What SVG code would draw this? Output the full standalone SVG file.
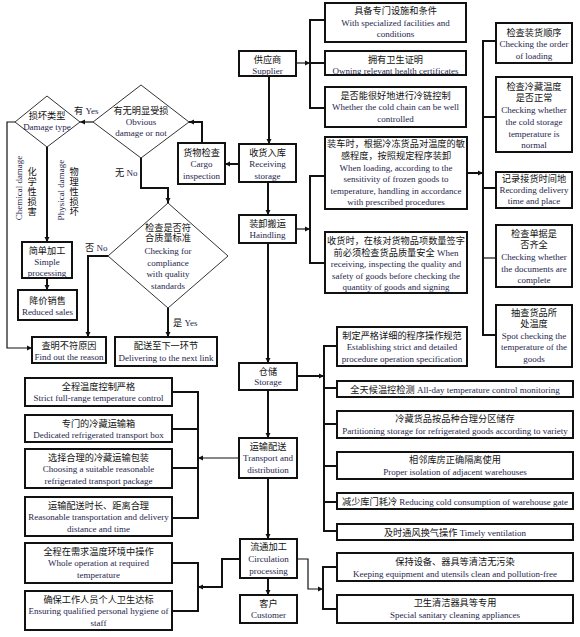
<svg xmlns="http://www.w3.org/2000/svg" width="580" height="637" viewBox="0 0 580 637">
<style>
.bx{fill:#fff;stroke:#111;stroke-width:2}
.dm{fill:#fff;stroke:#333;stroke-width:1}
.zh{font-family:"Noto Sans CJK SC","Noto Sans",sans-serif;font-size:9.2px;fill:#111}
.zv{font-family:"Noto Sans CJK SC","Noto Sans",sans-serif;font-size:9.2px;fill:#111;writing-mode:vertical-rl;letter-spacing:0.8px}
.en{font-family:"Liberation Serif","Times New Roman",serif;font-size:9px;fill:#26264d}
.c{text-anchor:middle}
.ln{fill:none;stroke:#111;stroke-width:2}
.tn{fill:none;stroke:#111;stroke-width:1.2}
</style>
<defs>
<marker id="ar" markerUnits="userSpaceOnUse" markerWidth="6" markerHeight="6" refX="5" refY="3" orient="auto"><path d="M0,0.5 L5,3 L0,5.5 z" fill="#111"/></marker>
</defs>
<rect width="580" height="637" fill="#fff"/>

<g id="connectors">
<path class="tn" d="M296,63 H310" marker-end="url(#ar)"/>
<path class="ln" d="M325,20 H310 V108 H325 M310,63 H325"/>
<path class="ln" d="M269,76 V144" marker-end="url(#ar)"/>
<path class="ln" d="M239,164 H225" marker-end="url(#ar)"/>
<path class="ln" d="M202,143 V122 H189" marker-end="url(#ar)"/>
<path class="tn" d="M93,122 H80" marker-end="url(#ar)"/>
<path class="ln" d="M141,157 V188 H168 V203" marker-end="url(#ar)"/>
<path class="ln" d="M47,147 V242" marker-end="url(#ar)"/>
<path class="ln" d="M47,278 V290" marker-end="url(#ar)"/>
<path class="tn" d="M15,122 H7 V348 H32" marker-end="url(#ar)"/>
<path class="ln" d="M108,256 H88 V337" marker-end="url(#ar)"/>
<path class="ln" d="M168,308 V337" marker-end="url(#ar)"/>
<path class="ln" d="M268,182 V215" marker-end="url(#ar)"/>
<path class="tn" d="M296,229 H310" marker-end="url(#ar)"/>
<path class="ln" d="M325,176 H310 V263 H325"/>
<path class="ln" d="M467,173 H483" marker-end="url(#ar)"/>
<path class="ln" d="M497,41 H483 V335 H497 M483,117 H497 M483,188 H497"/>
<path class="tn" d="M483,258 H497"/>
<path class="ln" d="M268,243 V363" marker-end="url(#ar)"/>
<path class="ln" d="M297,376 H324" marker-end="url(#ar)"/>
<path class="ln" d="M337,346 H324 V531 H337 M324,388 H337 M324,424 H337 M324,466 H337 M324,502 H337"/>
<path class="ln" d="M268,390 V438" marker-end="url(#ar)"/>
<path class="tn" d="M239,458 H198" marker-end="url(#ar)"/>
<path class="ln" d="M172,392 H198 V518 H172 M198,429 H172 M198,468 H172"/>
<path class="ln" d="M268,478 V539" marker-end="url(#ar)"/>
<path class="ln" d="M240,559 H222 V587 H198" marker-end="url(#ar)"/>
<path class="ln" d="M172,563 H198 V611 H172"/>
<path class="tn" d="M297,559 H308 V589 H323" marker-end="url(#ar)"/>
<path class="ln" d="M337,567 H323 V609 H337"/>
<path class="ln" d="M268,578 V595" marker-end="url(#ar)"/>
<text x="74" y="113.5"><tspan class="zh">有</tspan><tspan class="en"> Yes</tspan></text>
<text x="115" y="175.5"><tspan class="zh">无</tspan><tspan class="en"> No</tspan></text>
<text x="85" y="250.5"><tspan class="zh">否</tspan><tspan class="en"> No</tspan></text>
<text x="173" y="325.5"><tspan class="zh">是</tspan><tspan class="en"> Yes</tspan></text>
<text class="en c" x="22" y="188" transform="rotate(-90 22 188)">Chemical damage</text>
<text class="en c" x="64" y="190" transform="rotate(-90 64 190)">Physical damage</text>
<text class="zv" x="32" y="167">化学性损害</text>
<text class="zv" x="74" y="167">物理性损坏</text>
</g>

<g id="supplier"><rect class="bx" x="239" y="51" width="57" height="25"/>
<text class="c"><tspan class="zh" x="267.5" y="62.5">供应商</tspan><tspan class="en" x="267.5" y="73.5">Supplier</tspan></text></g>

<g id="receiving"><rect class="bx" x="239" y="144" width="57" height="38"/>
<text class="c"><tspan class="zh" x="267.5" y="155.5">收货入库</tspan><tspan class="en" x="267.5" y="167">Receiving</tspan><tspan class="en" x="267.5" y="179">storage</tspan></text></g>

<g id="handling"><rect class="bx" x="239" y="215" width="57" height="28"/>
<text class="c"><tspan class="zh" x="267.5" y="226.5">装卸搬运</tspan><tspan class="en" x="267.5" y="238">Haindling</tspan></text></g>

<g id="storage"><rect class="bx" x="239" y="363" width="58" height="27"/>
<text class="c"><tspan class="zh" x="268" y="374.5">仓储</tspan><tspan class="en" x="268" y="385">Storage</tspan></text></g>

<g id="transport"><rect class="bx" x="239" y="438" width="58" height="40"/>
<text class="c"><tspan class="zh" x="268" y="449.5">运输配送</tspan><tspan class="en" x="268" y="461">Transport and</tspan><tspan class="en" x="268" y="473">distribution</tspan></text></g>

<g id="circulation"><rect class="bx" x="240" y="539" width="57" height="39"/>
<text class="c"><tspan class="zh" x="268.5" y="549.5">流通加工</tspan><tspan class="en" x="268.5" y="562">Circulation</tspan><tspan class="en" x="268.5" y="574">processing</tspan></text></g>

<g id="customer"><rect class="bx" x="240" y="595" width="57" height="28"/>
<text class="c"><tspan class="zh" x="268.5" y="606.5">客户</tspan><tspan class="en" x="268.5" y="618">Customer</tspan></text></g>

<g id="cargo"><rect class="bx" x="178" y="143" width="47" height="41"/>
<text class="c"><tspan class="zh" x="201.5" y="155.5">货物检查</tspan><tspan class="en" x="201.5" y="167">Cargo</tspan><tspan class="en" x="201.5" y="179">inspection</tspan></text></g>

<g id="obvious-damage"><polygon class="dm" points="141,85 189,122 141,158 93,122"/>
<text class="c"><tspan class="zh" x="141" y="113.5">有无明显受损</tspan><tspan class="en" x="141" y="125">Obvious</tspan><tspan class="en" x="141" y="136">damage or not</tspan></text></g>

<g id="damage-type"><polygon class="dm" points="47,96 80,122 47,147 15,122"/>
<text class="c"><tspan class="zh" x="47" y="118.5">损坏类型</tspan><tspan class="en" x="47" y="130">Damage type</tspan></text></g>

<g id="quality-check"><polygon class="dm" points="168,203 228,256 168,308 108,256"/>
<text class="c"><tspan class="zh" x="168" y="230.5">检查是否符</tspan><tspan class="zh" x="168" y="241">合质量标准</tspan><tspan class="en" x="168" y="254">Checking for</tspan><tspan class="en" x="168" y="265.5">compliance</tspan><tspan class="en" x="168" y="277">with quality</tspan><tspan class="en" x="168" y="288.5">standards</tspan></text></g>

<g id="simple-processing"><rect class="bx" x="22" y="242" width="50" height="36"/>
<text class="c"><tspan class="zh" x="47" y="253.5">简单加工</tspan><tspan class="en" x="47" y="265">Simple</tspan><tspan class="en" x="47" y="276">processing</tspan></text></g>

<g id="reduced-sales"><rect class="bx" x="18" y="290" width="59" height="30"/>
<text class="c"><tspan class="zh" x="47.5" y="303.5">降价销售</tspan><tspan class="en" x="47.5" y="315">Reduced sales</tspan></text></g>

<g id="find-reason"><rect class="bx" x="32" y="337" width="74" height="26"/>
<text class="c"><tspan class="zh" x="69" y="348.5">查明不符原因</tspan><tspan class="en" x="69" y="360">Find out the reason</tspan></text></g>

<g id="deliver-next"><rect class="bx" x="115" y="337" width="102" height="29"/>
<text class="c"><tspan class="zh" x="166" y="348.5">配送至下一环节</tspan><tspan class="en" x="166" y="360.5">Delivering to the next link</tspan></text></g>

<g id="sup-facilities"><rect class="bx" x="325" y="3" width="141" height="39"/>
<text class="c"><tspan class="zh" x="395.5" y="13.5">具备专门设施和条件</tspan><tspan class="en" x="395.5" y="26">With specialized facilities and</tspan><tspan class="en" x="395.5" y="37">conditions</tspan></text></g>

<g id="sup-health"><rect class="bx" x="325" y="51" width="141" height="24"/>
<text class="c"><tspan class="zh" x="395.5" y="62.5">拥有卫生证明</tspan><tspan class="en" x="395.5" y="73.5">Owning relevant health certificates</tspan></text></g>

<g id="sup-coldchain"><rect class="bx" x="325" y="87" width="141" height="40"/>
<text class="c"><tspan class="zh" x="395.5" y="98.5">是否能很好地进行冷链控制</tspan><tspan class="en" x="395.5" y="110">Whether the cold chain can be well</tspan><tspan class="en" x="395.5" y="121.5">controlled</tspan></text></g>

<g id="hd-loading"><rect class="bx" x="325" y="137" width="142" height="72"/>
<text class="c"><tspan class="zh" x="396" y="146.5">装车时，根据冷冻货品对温度的敏</tspan><tspan class="zh" x="396" y="158.5">感程度，按照规定程序装卸</tspan><tspan class="en" x="396" y="170.5">When loading, according to the</tspan><tspan class="en" x="396" y="182">sensitivity of frozen goods to</tspan><tspan class="en" x="396" y="193.5">temperature, handling in accordance</tspan><tspan class="en" x="396" y="205">with prescribed procedures</tspan></text></g>

<g id="hd-receiving"><rect class="bx" x="325" y="232" width="142" height="61"/>
<text class="c"><tspan class="zh" x="396" y="244">收货时，在核对货物品项数量签字</tspan><tspan class="zh" x="396" y="255.5">前必须检查货品质量安全</tspan><tspan class="en"> When</tspan><tspan class="en" x="396" y="267">receiving, inspecting the quality and</tspan><tspan class="en" x="396" y="278.5">safety of goods before checking the</tspan><tspan class="en" x="396" y="290">quantity of goods and signing</tspan></text></g>

<g id="chk-order"><rect class="bx" x="496" y="23" width="76" height="40"/>
<text class="c"><tspan class="zh" x="534" y="35.5">检查装货顺序</tspan><tspan class="en" x="534" y="47">Checking the order</tspan><tspan class="en" x="534" y="58.5">of loading</tspan></text></g>

<g id="chk-temp"><rect class="bx" x="496" y="77" width="76" height="75"/>
<text class="c"><tspan class="zh" x="534" y="89.5">检查冷藏温度</tspan><tspan class="zh" x="534" y="100.5">是否正常</tspan><tspan class="en" x="534" y="112.5">Checking whether</tspan><tspan class="en" x="534" y="124.5">the cold storage</tspan><tspan class="en" x="534" y="136.5">temperature is</tspan><tspan class="en" x="534" y="148">normal</tspan></text></g>

<g id="rec-delivery"><rect class="bx" x="496" y="172" width="76" height="36"/>
<text class="c"><tspan class="zh" x="534" y="181.5">记录接货时间地</tspan><tspan class="en" x="534" y="192.5">Recording delivery</tspan><tspan class="en" x="534" y="204">time and place</tspan></text></g>

<g id="chk-docs"><rect class="bx" x="496" y="225" width="76" height="62"/>
<text class="c"><tspan class="zh" x="534" y="236.5">检查单据是</tspan><tspan class="zh" x="534" y="248">否齐全</tspan><tspan class="en" x="534" y="260">Checking whether</tspan><tspan class="en" x="534" y="271.5">the documents are</tspan><tspan class="en" x="534" y="283">complete</tspan></text></g>

<g id="spot-check"><rect class="bx" x="496" y="305" width="76" height="62"/>
<text class="c"><tspan class="zh" x="534" y="316">抽查货品所</tspan><tspan class="zh" x="534" y="327">处温度</tspan><tspan class="en" x="534" y="338.5">Spot checking the</tspan><tspan class="en" x="534" y="350">temperature of the</tspan><tspan class="en" x="534" y="361.5">goods</tspan></text></g>

<g id="st-spec"><rect class="bx" x="337" y="327" width="130" height="39"/>
<text class="c"><tspan class="zh" x="402" y="338.5">制定严格详细的程序操作规范</tspan><tspan class="en" x="402" y="350">Establishing strict and detailed</tspan><tspan class="en" x="402" y="362">procedure operation specification</tspan></text></g>

<g id="st-monitor"><rect class="bx" x="337" y="381" width="236" height="16"/>
<text class="c" x="455" y="392.5"><tspan class="zh">全天候温控检测</tspan><tspan class="en">  All-day temperature control monitoring</tspan></text></g>

<g id="st-partition"><rect class="bx" x="337" y="411" width="236" height="27"/>
<text class="c"><tspan class="zh" x="455" y="421.5">冷藏货品按品种合理分区储存</tspan><tspan class="en" x="455" y="433.5">Partitioning storage for refrigerated goods according to variety</tspan></text></g>

<g id="st-isolation"><rect class="bx" x="337" y="452" width="236" height="27"/>
<text class="c"><tspan class="zh" x="455" y="462.5">相邻库房正确隔离使用</tspan><tspan class="en" x="455" y="475">Proper isolation of adjacent warehouses</tspan></text></g>

<g id="st-gate"><rect class="bx" x="337" y="493" width="236" height="16"/>
<text class="c" x="455" y="504.5"><tspan class="zh">减少库门耗冷</tspan><tspan class="en">  Reducing cold consumption of warehouse gate</tspan></text></g>

<g id="st-vent"><rect class="bx" x="337" y="524" width="236" height="16"/>
<text class="c" x="455" y="535.5"><tspan class="zh">及时通风换气操作</tspan><tspan class="en">  Timely ventilation</tspan></text></g>

<g id="tr-temp"><rect class="bx" x="25" y="378" width="147" height="28"/>
<text class="c"><tspan class="zh" x="98.5" y="389.5">全程温度控制严格</tspan><tspan class="en" x="98.5" y="401">Strict full-range temperature control</tspan></text></g>

<g id="tr-box"><rect class="bx" x="25" y="415" width="147" height="27"/>
<text class="c"><tspan class="zh" x="98.5" y="426.5">专门的冷藏运输箱</tspan><tspan class="en" x="98.5" y="438">Dedicated refrigerated transport box</tspan></text></g>

<g id="tr-package"><rect class="bx" x="25" y="449" width="147" height="39"/>
<text class="c"><tspan class="zh" x="98.5" y="460.5">选择合理的冷藏运输包装</tspan><tspan class="en" x="98.5" y="472">Choosing a suitable reasonable</tspan><tspan class="en" x="98.5" y="483.5">refrigerated transport package</tspan></text></g>

<g id="tr-distance"><rect class="bx" x="25" y="497" width="147" height="39"/>
<text class="c"><tspan class="zh" x="98.5" y="508.5">运输配送时长、距离合理</tspan><tspan class="en" x="98.5" y="520">Reasonable transportation and delivery</tspan><tspan class="en" x="98.5" y="531.5">distance and time</tspan></text></g>

<g id="ci-temp"><rect class="bx" x="25" y="543" width="147" height="40"/>
<text class="c"><tspan class="zh" x="98.5" y="554.5">全程在需求温度环境中操作</tspan><tspan class="en" x="98.5" y="566">Whole operation at required</tspan><tspan class="en" x="98.5" y="577.5">temperature</tspan></text></g>

<g id="ci-hygiene"><rect class="bx" x="25" y="591" width="147" height="39"/>
<text class="c"><tspan class="zh" x="98.5" y="602.5">确保工作人员个人卫生达标</tspan><tspan class="en" x="98.5" y="614">Ensuring qualified personal hygiene of</tspan><tspan class="en" x="98.5" y="625.5">staff</tspan></text></g>

<g id="ci-clean"><rect class="bx" x="337" y="553" width="236" height="28"/>
<text class="c"><tspan class="zh" x="455" y="564.5">保持设备、器具等清洁无污染</tspan><tspan class="en" x="455" y="576.5">Keeping equipment and utensils clean and pollution-free</tspan></text></g>

<g id="ci-special"><rect class="bx" x="337" y="595" width="236" height="28"/>
<text class="c"><tspan class="zh" x="455" y="605.5">卫生清洁器具等专用</tspan><tspan class="en" x="455" y="618">Special sanitary cleaning appliances</tspan></text></g>
</svg>
